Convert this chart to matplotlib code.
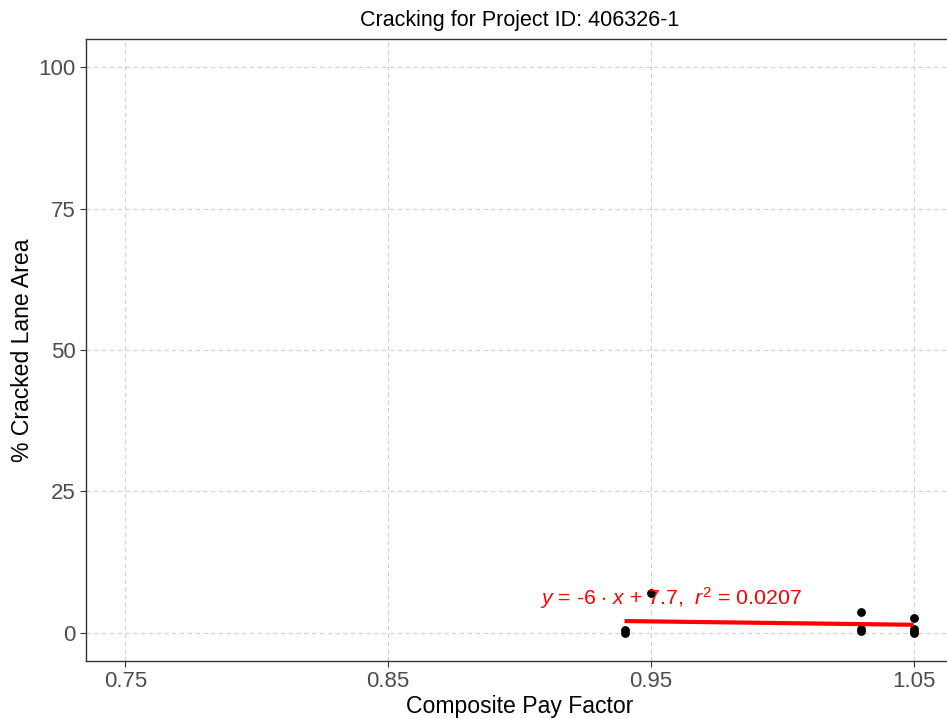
import matplotlib
matplotlib.use("Agg")
import matplotlib.pyplot as plt
import numpy as np

plt.rcParams['font.family'] = ['Liberation Sans', 'DejaVu Sans']
plt.rcParams['mathtext.fontset'] = 'custom'
plt.rcParams['mathtext.rm'] = 'Liberation Sans'
plt.rcParams['mathtext.it'] = 'Liberation Sans:italic'

pay_factor = [0.94, 0.94, 0.95, 1.03, 1.03, 1.03, 1.05, 1.05, 1.05, 1.05]
cracked = [0.0, 0.5, 7.1, 3.7, 0.7, 0.3, 2.6, 0.7, 0.2, 0.0]
x_ticks = [0.75, 0.85, 0.95, 1.05]
y_ticks = [0, 25, 50, 75, 100]
eq_label = r'$y$ = -6 $\cdot$ $x$ + 7.7,  $r^2$ = 0.0207'

fig = plt.figure(figsize=(9.47, 7.19), dpi=100)
ax = fig.add_axes([0.0908, 0.0807, 0.9155, 0.8651])

x = np.array(pay_factor)
y = np.array(cracked)
slope, intercept = -6.0, 7.7
xs = np.array([x.min(), x.max()])

ax.scatter(x, y, s=40, color='black', zorder=3, linewidths=0)
ax.plot(xs, slope * xs + intercept, color='red', lw=3, zorder=4, solid_capstyle='butt')
ax.text(0.908, 6.2, eq_label, color='red', fontsize=15.3, ha='left', va='center', zorder=5)

ax.set_xlim(0.735, 1.065)
ax.set_ylim(-5, 105)
ax.set_xticks(x_ticks)
ax.set_xticklabels([f'{v:.2f}' for v in x_ticks])
ax.set_yticks(y_ticks)
ax.grid(True, color='#D0D0D0', linestyle=(0, (4, 3)), linewidth=0.8)
ax.set_axisbelow(True)
for s in ax.spines.values():
    s.set_color('#333333')
    s.set_linewidth(1.0)
ax.tick_params(axis='both', labelsize=16, labelcolor='#4D4D4D', color='#333333', length=4)
ax.set_xlabel('Composite Pay Factor', fontsize=16.6, labelpad=2)
ax.set_ylabel('% Cracked Lane Area', fontsize=16.6, labelpad=3)
ax.set_title('Cracking for Project ID: 406326-1', fontsize=15.5, pad=9)

fig.savefig('out.png', dpi=100)
